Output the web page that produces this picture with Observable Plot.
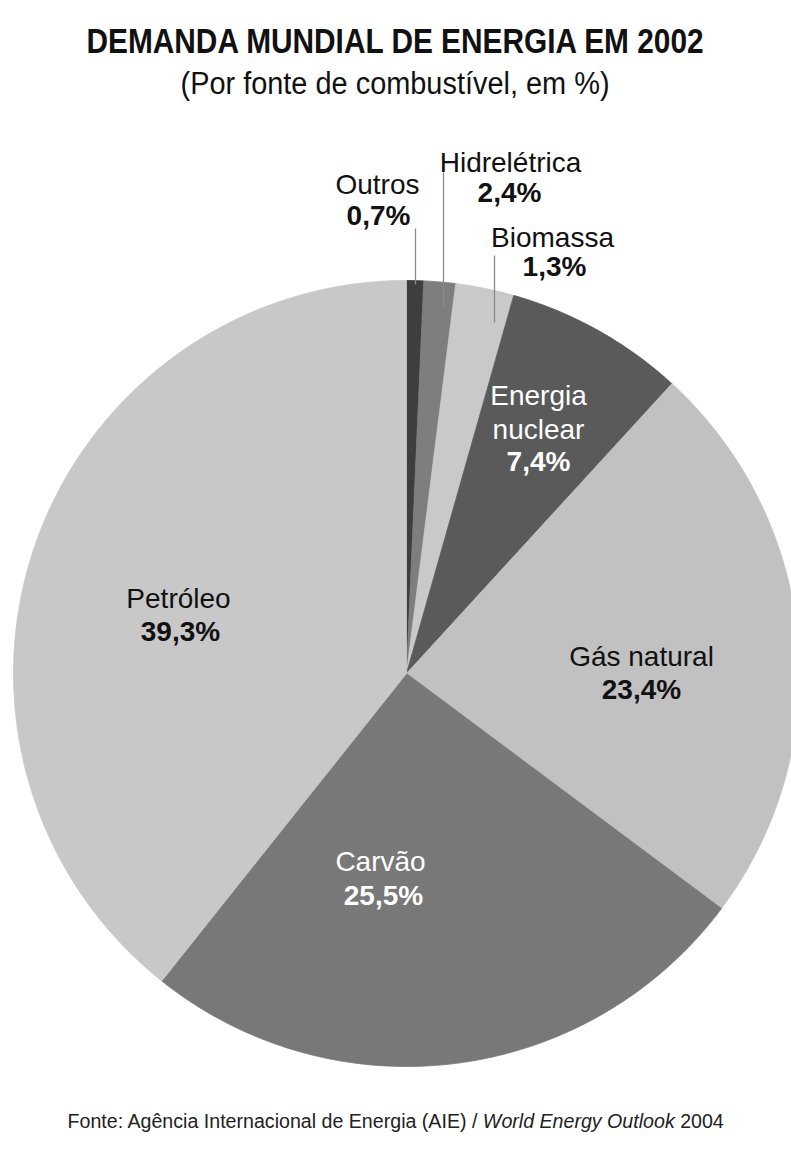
<!DOCTYPE html>
<html><head><meta charset="utf-8">
<script src="https://cdn.jsdelivr.net/npm/d3@7"></script>
<script src="https://cdn.jsdelivr.net/npm/@observablehq/plot@0.6"></script>
<style>
body{margin:0;background:#fff;font-family:"Liberation Sans",Arial,sans-serif;}
#page{position:relative;width:791px;height:1149px;overflow:hidden;background:#fff;}
.t{position:absolute;left:0;width:791px;text-align:center;white-space:nowrap;color:#111;}
.t span{display:inline-block;transform-origin:50% 50%;}
#chart{position:absolute;left:0;top:120px;}
</style></head><body>
<div id="page">
  <div class="t" id="title" style="top:23px;font-size:35px;line-height:35px;font-weight:bold;"><span data-w="617">DEMANDA MUNDIAL DE ENERGIA EM 2002</span></div>
  <div class="t" id="subtitle" style="top:68px;font-size:31px;line-height:31px;"><span data-w="429">(Por fonte de combustível, em %)</span></div>
  <div id="chart"></div>
  <div class="t" id="source" style="top:1111px;font-size:20px;line-height:20px;color:#222;"><span data-w="656">Fonte: Agência Internacional de Energia (AIE) / <i>World Energy Outlook</i> 2004</span></div>
</div>
<script>
// ---- data (clockwise from 12 o'clock, as drawn) ----
const categories = ["Outros", "Biomassa", "Hidrelétrica", "Energia nuclear", "Gás natural", "Carvão", "Petróleo"];
const values = [0.7, 1.3, 2.4, 7.4, 23.4, 25.5, 39.3];
const nameLabels = ["Outros", "Biomassa", "Hidrelétrica", "Energia\nnuclear", "Gás natural", "Carvão", "Petróleo"];

// ---- styling ----
const sliceColors = ["#3e3e3e", "#7e7e7e", "#c9c9c9", "#5a5a5a", "#c1c1c1", "#787878", "#c8c8c8"];
const textColors = ["#111", "#111", "#111", "#fff", "#111", "#fff", "#111"];
const R = 393, CX = 406, CY = 553; // pie radius and centre in svg px
// label placement: pixel offsets from pie centre [nameDx, nameDy, valueDx, valueDy]
const labelPos = {
  "Outros": [-29, -490, -28, -457],
  "Biomassa": [146, -437, 148, -406],
  "Hidrelétrica": [104, -512, 103, -480],
  "Energia nuclear": [132, -262, 132, -211],
  "Gás natural": [235, -18, 235, 17],
  "Carvão": [-26, 187, -23, 223],
  "Petróleo": [-228, -76, -226, -41]
};
// leader lines: [dx, dyStart, dyEnd] offsets from centre
const leaders = {
  "Outros": [9, -445, -389],
  "Hidrelétrica": [37, -501, -366],
  "Biomassa": [88, -418, -351]
};

const total = d3.sum(values);
const pts = [];
let acc = 0;
categories.forEach((c, i) => {
  const a0 = acc / total * 2 * Math.PI;
  acc += values[i];
  const a1 = acc / total * 2 * Math.PI;
  pts.push({key: c, x: 0, y: 0});
  const n = Math.max(2, Math.ceil((a1 - a0) / (Math.PI / 360)));
  for (let k = 0; k <= n; k++) {
    const a = a0 + (a1 - a0) * k / n;
    pts.push({key: c, x: Math.sin(a), y: Math.cos(a)});
  }
  pts.push({key: c, x: 0, y: 0});
});

const labels = categories.map((c, i) => {
  const p = labelPos[c];
  return {
    key: c,
    name: nameLabels[i],
    value: values[i].toFixed(1).replace(".", ",") + "%",
    nx: p[0] / R, ny: -p[1] / R, vx: p[2] / R, vy: -p[3] / R,
    color: textColors[i]
  };
});
const leaderData = Object.entries(leaders).map(([k, l]) => ({key: k, x: l[0] / R, y1: -l[1] / R, y2: -l[2] / R}));

const chart = Plot.plot({
  width: 791,
  height: 975,
  margin: 0,
  x: {domain: [-1, 1], range: [CX - R, CX + R], axis: null},
  y: {domain: [-1, 1], range: [CY + R, CY - R], axis: null},
  color: {domain: categories, range: sliceColors},
  style: {background: "transparent", overflow: "visible"},
  marks: [
    Plot.line(pts, {x: "x", y: "y", z: "key", fill: "key", stroke: "key", strokeWidth: 0.8, curve: "linear"}),
    Plot.link(leaderData, {x1: "x", x2: "x", y1: "y1", y2: "y2", stroke: "#8a8a8a", strokeWidth: 1.3}),
    Plot.text(labels, {x: "nx", y: "ny", text: "name", fill: "color", fontSize: 28, fontFamily: "Liberation Sans, Arial, sans-serif", lineHeight: 1.21, lineAnchor: "middle", textAnchor: "middle"}),
    Plot.text(labels, {x: "vx", y: "vy", text: "value", fill: "color", fontSize: 28, fontWeight: "bold", fontFamily: "Liberation Sans, Arial, sans-serif", lineAnchor: "middle", textAnchor: "middle"})
  ]
});
document.getElementById("chart").appendChild(chart);

// fit header/footer text widths to the reference
document.querySelectorAll(".t span").forEach(s => {
  const w = s.offsetWidth, target = +s.dataset.w;
  if (w > 0) s.style.transform = `scaleX(${target / w})`;
});
</script>
</body></html>
